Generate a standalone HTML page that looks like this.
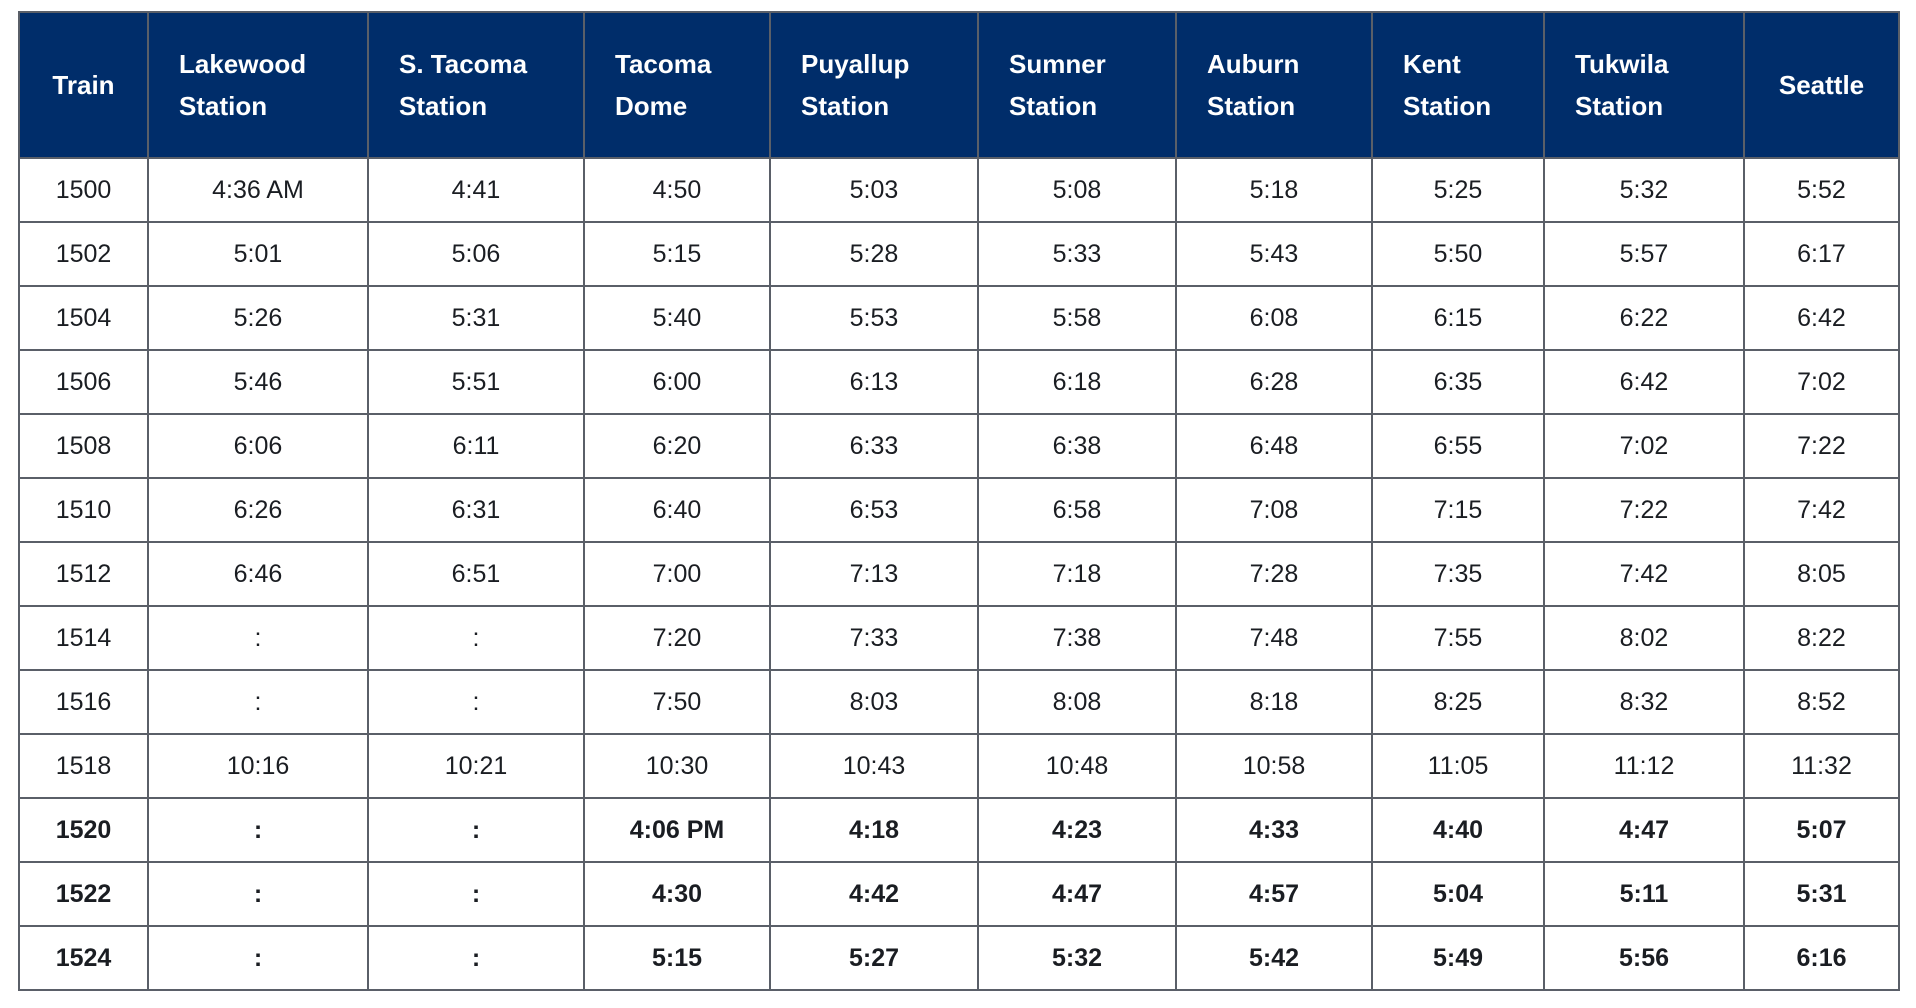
<!DOCTYPE html>
<html><head><meta charset="utf-8"><style>
body{margin:0;background:#fff;width:1916px;height:1008px;overflow:hidden;font-family:"Liberation Sans",sans-serif;}
table{position:absolute;left:18px;top:11px;border-collapse:collapse;table-layout:fixed;width:1880px;}
td,th{border:2px solid #5a5f68;text-align:center;color:#1a1d22;font-size:25px;padding:0;}
th{background:#002d6a;color:#fff;height:144px;font-size:26px;text-align:left;padding-left:30px;line-height:42px;font-weight:bold;}
th.c{text-align:center;padding-left:0;}
td{height:62px;}
tr.b td{font-weight:bold;}
</style></head><body>
<table>
<colgroup><col style="width:129px"><col style="width:220px"><col style="width:216px"><col style="width:186px"><col style="width:208px"><col style="width:198px"><col style="width:196px"><col style="width:172px"><col style="width:200px"><col style="width:155px"></colgroup>
<tr><th class="c">Train</th><th>Lakewood<br>Station</th><th>S. Tacoma<br>Station</th><th>Tacoma<br>Dome</th><th>Puyallup<br>Station</th><th>Sumner<br>Station</th><th>Auburn<br>Station</th><th>Kent<br>Station</th><th>Tukwila<br>Station</th><th class="c">Seattle</th></tr>
<tr><td>1500</td><td>4:36 AM</td><td>4:41</td><td>4:50</td><td>5:03</td><td>5:08</td><td>5:18</td><td>5:25</td><td>5:32</td><td>5:52</td></tr>
<tr><td>1502</td><td>5:01</td><td>5:06</td><td>5:15</td><td>5:28</td><td>5:33</td><td>5:43</td><td>5:50</td><td>5:57</td><td>6:17</td></tr>
<tr><td>1504</td><td>5:26</td><td>5:31</td><td>5:40</td><td>5:53</td><td>5:58</td><td>6:08</td><td>6:15</td><td>6:22</td><td>6:42</td></tr>
<tr><td>1506</td><td>5:46</td><td>5:51</td><td>6:00</td><td>6:13</td><td>6:18</td><td>6:28</td><td>6:35</td><td>6:42</td><td>7:02</td></tr>
<tr><td>1508</td><td>6:06</td><td>6:11</td><td>6:20</td><td>6:33</td><td>6:38</td><td>6:48</td><td>6:55</td><td>7:02</td><td>7:22</td></tr>
<tr><td>1510</td><td>6:26</td><td>6:31</td><td>6:40</td><td>6:53</td><td>6:58</td><td>7:08</td><td>7:15</td><td>7:22</td><td>7:42</td></tr>
<tr><td>1512</td><td>6:46</td><td>6:51</td><td>7:00</td><td>7:13</td><td>7:18</td><td>7:28</td><td>7:35</td><td>7:42</td><td>8:05</td></tr>
<tr><td>1514</td><td>:</td><td>:</td><td>7:20</td><td>7:33</td><td>7:38</td><td>7:48</td><td>7:55</td><td>8:02</td><td>8:22</td></tr>
<tr><td>1516</td><td>:</td><td>:</td><td>7:50</td><td>8:03</td><td>8:08</td><td>8:18</td><td>8:25</td><td>8:32</td><td>8:52</td></tr>
<tr><td>1518</td><td>10:16</td><td>10:21</td><td>10:30</td><td>10:43</td><td>10:48</td><td>10:58</td><td>11:05</td><td>11:12</td><td>11:32</td></tr>
<tr class="b"><td>1520</td><td>:</td><td>:</td><td>4:06 PM</td><td>4:18</td><td>4:23</td><td>4:33</td><td>4:40</td><td>4:47</td><td>5:07</td></tr>
<tr class="b"><td>1522</td><td>:</td><td>:</td><td>4:30</td><td>4:42</td><td>4:47</td><td>4:57</td><td>5:04</td><td>5:11</td><td>5:31</td></tr>
<tr class="b"><td>1524</td><td>:</td><td>:</td><td>5:15</td><td>5:27</td><td>5:32</td><td>5:42</td><td>5:49</td><td>5:56</td><td>6:16</td></tr>
</table>
</body></html>
